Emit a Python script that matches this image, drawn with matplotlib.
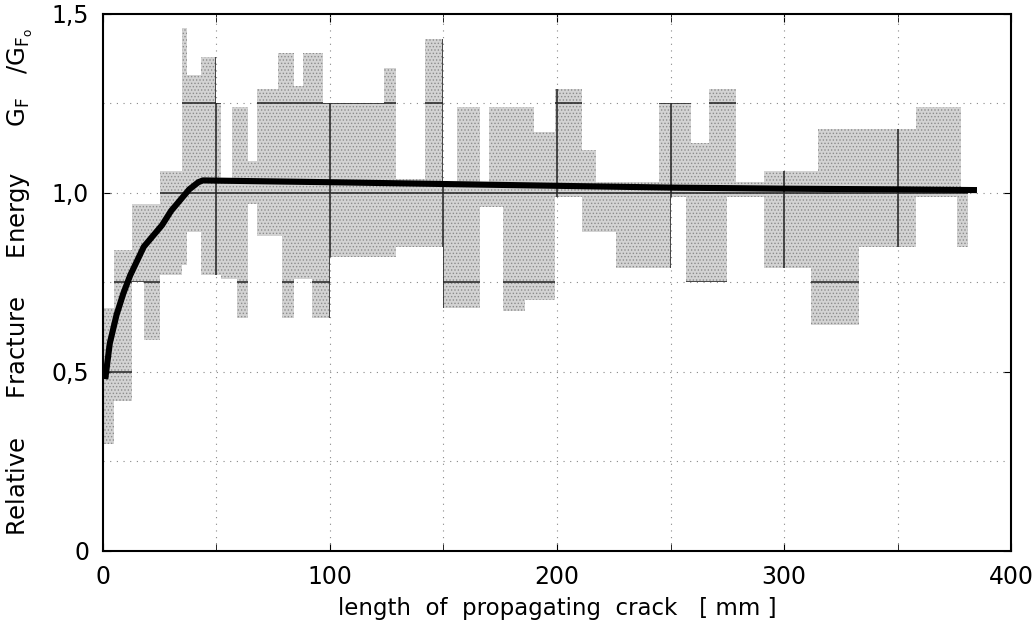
import numpy as np
import matplotlib
matplotlib.use('Agg')
import matplotlib.pyplot as plt
from matplotlib.path import Path

# scatter band: one stepped strip per crack-length interval [mm]
seg_x0 = [0, 5, 13, 18, 25, 35, 37, 43, 50, 52, 57, 59, 64, 68, 77, 79, 84, 88, 92, 97,
          100, 124, 129, 142, 150, 156, 166, 170, 176, 186, 190, 199, 211, 217, 226, 245,
          250, 257, 259, 267, 275, 279, 291, 312, 315, 333, 358, 376, 378]
seg_x1 = seg_x0[1:] + [381]
seg_low = [0.30, 0.42, 0.75, 0.59, 0.77, 0.80, 0.89, 0.77, 0.77, 0.76, 0.76, 0.65, 0.97, 0.88,
           0.88, 0.65, 0.76, 0.76, 0.65, 0.65, 0.82, 0.82, 0.85, 0.85, 0.68, 0.68, 0.96, 0.96,
           0.67, 0.70, 0.70, 0.99, 0.89, 0.89, 0.79, 0.79, 0.99, 0.75, 0.75, 0.75, 0.99, 0.99,
           0.79, 0.63, 0.63, 0.85, 0.99, 0.85, 0.85]
seg_high = [0.68, 0.84, 0.97, 0.97, 1.06, 1.46, 1.33, 1.38, 1.25, 1.04, 1.24, 1.24, 1.09, 1.29,
            1.39, 1.39, 1.30, 1.39, 1.39, 1.25, 1.25, 1.35, 1.04, 1.43, 1.03, 1.24, 1.03, 1.24,
            1.24, 1.24, 1.17, 1.29, 1.12, 1.03, 1.03, 1.25, 1.25, 1.25, 1.14, 1.29, 1.29, 1.03,
            1.06, 1.06, 1.18, 1.18, 1.24, 1.24, 1.01]

# mean curve
curve_x = [1, 3, 6, 9, 12, 15, 18, 22, 26, 30, 34, 38, 42, 44, 100, 150, 200, 250, 300, 350, 385]
curve_y = [0.48, 0.58, 0.66, 0.72, 0.77, 0.81, 0.85, 0.88, 0.91, 0.95, 0.98, 1.01, 1.03, 1.035,
           1.03, 1.025, 1.02, 1.015, 1.012, 1.01, 1.008]

x_ticks = [0, 100, 200, 300, 400]
x_ticklabels = ['0', '100', '200', '300', '400']
y_ticks = [0, 0.5, 1.0, 1.5]
y_ticklabels = ['0', '0,5', '1,0', '1,5']
grid_x = [50, 100, 150, 200, 250, 300, 350]
grid_y = [0.25, 0.5, 0.75, 1.0, 1.25]

plt.rcParams['font.family'] = ['DejaVu Sans']
plt.rcParams['hatch.color'] = '#8c8c8c'
plt.rcParams['hatch.linewidth'] = 0.6

fig = plt.figure(figsize=(10.36, 6.23), dpi=100)
ax = fig.add_axes([0.0994, 0.1156, 0.8765, 0.862])

widths = np.array(seg_x1) - np.array(seg_x0)
heights = np.array(seg_high) - np.array(seg_low)
bars = ax.bar(seg_x0, heights, width=widths, bottom=seg_low, align='edge',
              color='#d3d3d3', hatch='.....', linewidth=0, zorder=1)

# faint grid everywhere, darker where it crosses the band
band_path = Path.make_compound_path(
    *[b.get_path().transformed(b.get_patch_transform()) for b in bars])
for gx in grid_x:
    ax.plot([gx, gx], [0, 1.5], color='#888888', lw=0.8, ls=(0, (1, 5)), zorder=2)
    ln, = ax.plot([gx, gx], [0, 1.5], color='#222222', lw=1.1, zorder=2)
    ln.set_clip_path(band_path, ax.transData)
for gy in grid_y:
    ax.plot([0, 400], [gy, gy], color='#888888', lw=0.8, ls=(0, (1, 5)), zorder=2)
    ln, = ax.plot([0, 400], [gy, gy], color='#222222', lw=1.1, zorder=2)
    ln.set_clip_path(band_path, ax.transData)

ax.plot(curve_x, curve_y, color='black', lw=4.4, solid_capstyle='butt', zorder=3)

ax.set_xlim(0, 400)
ax.set_ylim(0, 1.5)
ax.set_xticks(x_ticks)
ax.set_xticklabels(x_ticklabels)
ax.set_yticks(y_ticks)
ax.set_yticklabels(y_ticklabels)
ax.set_xticks(grid_x, minor=True)
ax.tick_params(which='both', direction='in', top=True, right=True, labelsize=17, pad=10)
ax.tick_params(which='major', length=6)
ax.tick_params(which='minor', length=6)
for s in ax.spines.values():
    s.set_linewidth(1.5)

ax.set_xlabel('length  of  propagating  crack   [ mm ]', fontsize=16.5, labelpad=6)
ax.set_ylabel(r'Relative     Fracture     Energy      $\mathrm{G_F}$   $/\mathrm{G_{F_o}}$',
              fontsize=17.5, labelpad=12)

fig.savefig('out.png', dpi=100)
